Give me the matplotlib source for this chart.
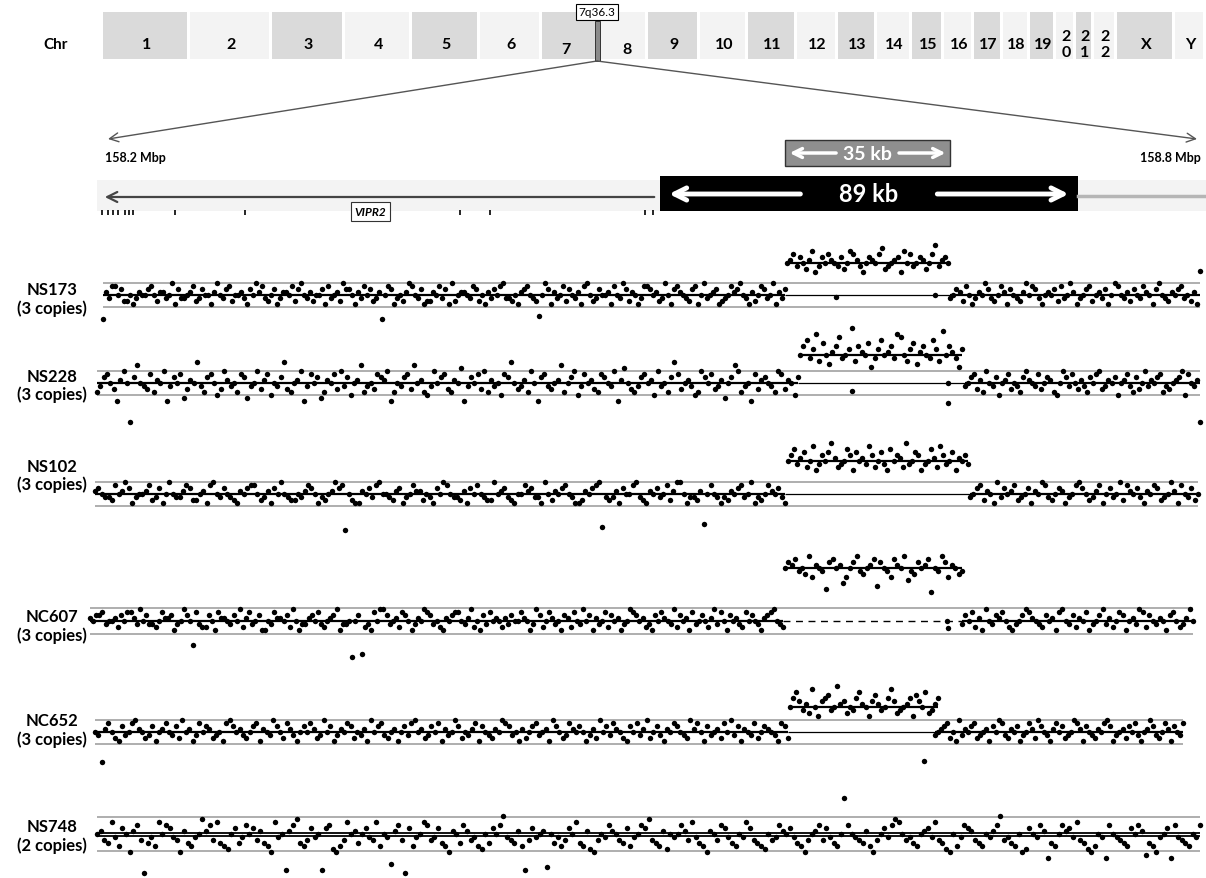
import numpy as np
import matplotlib.pyplot as plt
from matplotlib.patches import Rectangle

plt.rcParams['font.family'] = ['Lato', 'DejaVu Sans']

W, H = 1206, 879

# ---- ideogram ----
chrom_names = ['1', '2', '3', '4', '5', '6', '7', '8', '9', '10', '11', '12',
               '13', '14', '15', '16', '17', '18', '19', '20', '21', '22', 'X', 'Y']
chrom_widths = [87, 82, 73, 67, 68, 62, 56, 50, 52, 48, 49, 41,
                39, 35, 32, 30, 29, 27, 26, 20, 18, 23, 58, 31]

# ---- gene track (kb from 158.2 Mbp) ----
gene_start, gene_end = 8, 305
exon_kb = [6.5, 9.7, 12.4, 15.1, 18.9, 21.1, 23.2, 45.9, 83.8, 200, 216.2, 300, 304.3]
dup89 = (308, 534)
dup35 = (375.7, 464.9)

# ---- samples ----
sample_names = ['NS173', 'NS228', 'NS102', 'NC607', 'NC652', 'NS748']
copy_labels = ['(3 copies)'] * 5 + ['(2 copies)']
thresholds = [0.2, 0.2, 0.2, 0.22, 0.2, 0.29]
cnv_levels = [0.53, 0.47, 0.55, 0.88, 0.42, None]
# start, left end, cnv start, cnv end, right start, end (kb)
seg_bounds = [
    (7, 375.7, 376.8, 463.8, 464.9, 600),
    (3.8, 382.7, 383.8, 471.4, 473, 600),
    (2.7, 375.7, 377.3, 474.6, 475.7, 599),
    (0, 374.6, 375.7, 471.4, 471.4, 596.2),
    (2.7, 377.3, 378.4, 458.4, 456.8, 590.8),
    (3.8, 600, None, None, None, 600),
]
# log-ratio values, one letter per probe ('n' = 0, one letter step = 0.05)
left_vals = [
    "fomqqnpllnkmonnpqnloomnrkpmmnoqlmpnnkornmpqlnnomkp"
    "nroqmlnpkmoonqlprnmolnnpkqmnolrppnkomqnplmofnqpkmn"
    "lorqnmpkllonqmpkrlnoonmqplnkompnqrmmlnkopqnmlgnrpk"
    "omnqlpnmokqrnlmpnnokqnmrplonkmqqpnolmrnkpqonmlpqkn"
    "rmnopklmnqoprnmkolnqpmnrkomp",
    "kmpqnlhornaptnmlqkonrhmpnqilonumkpqnjlromnkqpimnrl"
    "oqjnmpulknorhmqnpikonqlrmpjnotkmnlqporhknmpqltnokj"
    "mrnpqlkonshmpnqlrkomnjqpunlmokrnhpqmlnotknprjmqnol"
    "kqpnmrhosnlkmpqnojrmnkpuqlnomjkrpnqlmoinptrkmnhqlo"
    "pnmkrqlonjp",
    "opnmmlqnorpkmnnoqlmpknrnmmoqpllnokqrnmpnmlkonpqqnl"
    "mokpnrnmllnmoqpnkmlnorpqbnlkkonpmqrnnmlopkmnqoolnm"
    "kpnrqnmmlokpnqnmllrnopmlknnqopmmkrnlonpqnmkklonpqr"
    "cmlmokpnnqrmlkonpmnqlorrnkmmlodnqnmkmlonpqmnrkmlnq"
    "onpmk",
    "onppqmnnolpnqqomrnpmmlnqoopkmnrpnfqmllpnkqoonmpnrl"
    "oqmnpkknmqoonplrnkmmopnqmlnoprkmmnbnpclmkqnrrpmnol"
    "qpnkmonrqpmnlkonpqqnmorlnkpmqnonlompnnqonkmrplnqom"
    "nkpolqnmrnpkomnqlpnokmnrqpnolmkpnqonmrlpnokqmnpnlo"
    "rmqnkpnomlqnpnmkopqrnml",
    "nmdoqnlkpmnqronlmpknoqnmplrnokmqnpolmnkqrpnomlnpqk"
    "onmrpnlqomknpnqolmrnpkmonqplnmokrnpqmlnoknpmqrnolm"
    "pnqkomnrplnmoqkpnmlonrqpmnkolnpqmnokrpnlmqonpnkmol"
    "rnpmqonlkpnqmorlnpmkonqpnmlroqnkpmnolqnrmpkonmqlnp"
    "onmkqpl",
    "nolkrmjpnhoqlakmjrnqpmlhokjmnsoqlrkjinpkmqnplokjhr"
    "mnboqskjlpmnbpqihjlrnoknpmlrjnmdoqlapjmnrqlmpkjhon"
    "kqolmjinkpnqtmlkojblpmnocnkmjlpnrkjoihlnmqonlkpjmn"
    "qpslkjoinmnqolrmkjhonlqpmkjnmrplkjinlmqonpmkjhlnoq"
    "lpmkjnzqnmlkojhlnpmqsrnlmkjnopmrlkihnjmqpolkjnmoqt"
    "lmkjnhipnmqofkjnqopmrlkihjnmfqnmlkjpnqogkjhmnpfqml"
    "kjnmq",
]
cnv_vals = [
    "noqmpnlorkmpnqonmplnrqomknponqslmnopkrnqmnpolnqtmopn",
    "nqsmpulrnkoqtmnpwlqonrjmpsnoqmutnlprkoqnmsplvnqomjp",
    "nprmoqlnskmpnqtolmnrpkqnomsplnqmkrnpoltmnqpkmnrolspmnqkonpm",
    "npoqmnlrkonmgpqnoiknprmlnoqhpnmkqonrjmlpnoqfnmrpkonlm",
    "nqspmoltnkpqrmnuoplnmqsonkpromnqtplmnoqkrpnslmoq",
    "",
]
right_vals = [
    "mnpolqnkmonrpmlnqokpnmlornqpmknonplqmnrokmnpqlnomp"
    "knrqnmolpnmqonkprnmlonpqmnlokv",
    "mnpqlokrnmpjnoqlnmkpronmqlnpokjnrpmqnlomkpnqrlmonp"
    "jnoqmkplnrmonpqkmlnoprjqnmoa",
    "mnpqlonkrmpnoqlmnpkonrqmlnpokmnqrpnlmoqknpmnrlqonpmkonqplmnrokqnmpln",
    "mpnqlokrnmpoqnlkmnprqonmlpnokqrnmplonqkmnprmolnqpknomrqlpnmonkpqnlmorn",
    "mnopqlnkrmonpqlmnokpnrqmlonpkmnqolrpnmkoqnplmnrqokpnmlonqrpkmnolpnqmknorpmlnqokpnmq",
    "",
]
mid_x = [[403, 457], [412, 464, 464], [], [463, 464], [451], []]
mid_y = [[-0.03, 0.0], [-0.13, -0.33, 0.0], [], [0.0, -0.12], [-0.48], []]

panel_base_px = [296, 384, 495, 622, 733, 835]
label_px = [(290, 309), (377, 395), (467, 485), (617, 636), (721, 740), (827, 846)]
STEP = 0.05
DOT = 3.9


def decode(s, level=0.0):
    return np.array([ord(c) - ord('n') for c in s]) * STEP + level


fig = plt.figure(figsize=(W / 100, H / 100), dpi=100)

# overlay in pixel units for ideogram and zoom lines
ax0 = fig.add_axes([0, 0, 1, 1])
ax0.set_xlim(0, W)
ax0.set_ylim(H, 0)
ax0.axis('off')

ax0.text(56, 45, 'Chr', fontsize=11, fontweight='bold', ha='center', va='center')
x = 103
for i, (name, w) in enumerate(zip(chrom_names, chrom_widths)):
    fc = '#dadada' if i % 2 == 0 else '#f3f3f3'
    ax0.add_patch(Rectangle((x, 13), w - 3, 47, fc=fc, ec='none'))
    cx = x + w / 2
    if len(name) == 2 and name.startswith('2'):
        ax0.text(cx, 37, name[0], fontsize=11.5, fontweight='bold', ha='center', va='center')
        ax0.text(cx, 53, name[1], fontsize=11.5, fontweight='bold', ha='center', va='center')
    else:
        ty = 50 if name in ('7', '8') else 45
        if name == '7':
            cx -= 4
        if name == '8':
            cx += 4
        ax0.text(cx, ty, name, fontsize=11.5, fontweight='bold', ha='center', va='center')
    x += w

ax0.add_patch(Rectangle((595, 22), 5, 40, fc='#8a8a8a', ec='#333333', lw=0.7))
ax0.text(597, 13, '7q36.3', fontsize=8.5, ha='center', va='center',
         bbox=dict(boxstyle='square,pad=0.25', fc='white', ec='black', lw=0.8))
for tx in (108, 1197):
    ax0.annotate('', xy=(tx, 140), xytext=(597, 62),
                 arrowprops=dict(arrowstyle='->', color='#555555', lw=1.0,
                                 mutation_scale=16, shrinkA=0, shrinkB=0))
ax0.text(105, 158, '158.2 Mbp', fontsize=9, fontweight='bold', ha='left', va='center')
ax0.text(1201, 158, '158.8 Mbp', fontsize=9, fontweight='bold', ha='right', va='center')

# gene track
gx = fig.add_axes([90 / W, 1 - 225 / H, 1110 / W, 95 / H])
gx.set_xlim(0, 600)
gx.set_ylim(225, 130)
gx.axis('off')
gx.add_patch(Rectangle((3.8, 181), 600, 31, fc='#f3f3f3', ec='none', clip_on=False))
gx.annotate('', xy=(gene_start, 198), xytext=(gene_end, 198),
            arrowprops=dict(arrowstyle='->', color='#444444', lw=1.6,
                            mutation_scale=18, shrinkA=0, shrinkB=0))
gx.plot([dup89[1], 603], [197, 197], color='#b5b5b5', lw=2.5, clip_on=False)
gx.vlines(exon_kb, 211, 216, color='black', lw=1.2)
gx.text(151.4, 212.5, 'VIPR2', fontsize=8.5, fontweight='bold', style='italic',
        ha='center', va='center',
        bbox=dict(boxstyle='square,pad=0.3', fc='white', ec='#333333', lw=0.8))
gx.add_patch(Rectangle((dup89[0], 177), dup89[1] - dup89[0], 35, fc='black', ec='none'))
c89 = (dup89[0] + dup89[1]) / 2
gx.text(c89, 195, '89 kb', color='white', fontsize=17, fontweight='bold',
        ha='center', va='center')
gx.annotate('', xy=(dup89[0] + 5, 195), xytext=(c89 - 37, 195),
            arrowprops=dict(arrowstyle='->', color='white', lw=3.5,
                            mutation_scale=22, shrinkA=0, shrinkB=0))
gx.annotate('', xy=(dup89[1] - 5, 195), xytext=(c89 + 37, 195),
            arrowprops=dict(arrowstyle='->', color='white', lw=3.5,
                            mutation_scale=22, shrinkA=0, shrinkB=0))
gx.add_patch(Rectangle((dup35[0], 141), dup35[1] - dup35[0], 26,
                       fc='#8f8f8f', ec='#333333', lw=1))
c35 = (dup35[0] + dup35[1]) / 2
gx.text(c35, 154, '35 kb', color='white', fontsize=14, fontweight='bold',
        ha='center', va='center')
gx.annotate('', xy=(dup35[0] + 2.5, 154), xytext=(c35 - 17, 154),
            arrowprops=dict(arrowstyle='->', color='white', lw=2.5,
                            mutation_scale=16, shrinkA=0, shrinkB=0))
gx.annotate('', xy=(dup35[1] - 2.5, 154), xytext=(c35 + 17, 154),
            arrowprops=dict(arrowstyle='->', color='white', lw=2.5,
                            mutation_scale=16, shrinkA=0, shrinkB=0))

# sample panels
for i, name in enumerate(sample_names):
    b = panel_base_px[i]
    ax = fig.add_axes([90 / W, 1 - (b + 60) / H, 1110 / W, 132 / H])
    ax.set_xlim(0, 600)
    ax.set_ylim(-1, 1.2)
    ax.axis('off')
    s0, l1, c0, c1, r0, s1 = seg_bounds[i]
    thr = thresholds[i]
    ax.hlines([thr, -thr], s0, s1, color='#a8a8a8', lw=1.3)

    yl = decode(left_vals[i])
    xl = np.linspace(s0, l1, len(yl))
    ax.plot(xl, yl, 'o', ms=DOT, color='black', mec='none', clip_on=False)

    if cnv_levels[i] is None:
        ax.hlines([0.025, -0.025], s0, s1, color='black', lw=1.3)
    else:
        ax.hlines(0, s0, l1, color='black', lw=1.6)
        ax.hlines(0, r0, s1, color='black', lw=1.6)
        if name == 'NC607':
            ax.hlines(0, l1, r0, color='black', lw=1.0, linestyles=(0, (5, 4)))
        else:
            ax.hlines(0, l1, r0, color='black', lw=0.9)
        yc = decode(cnv_vals[i], cnv_levels[i])
        xc = np.linspace(c0, c1, len(yc))
        ax.plot(xc, yc, 'o', ms=DOT, color='black', mec='none')
        ax.hlines(cnv_levels[i], c0, c1, color='black', lw=1.6)
        yr = decode(right_vals[i])
        xr = np.linspace(r0, s1, len(yr))
        ax.plot(xr, yr, 'o', ms=DOT, color='black', mec='none', clip_on=False)
        if mid_x[i]:
            ax.plot(mid_x[i], mid_y[i], 'o', ms=DOT, color='black', mec='none')

    ty1, ty2 = label_px[i]
    fig.text(52 / W, 1 - ty1 / H, name, fontsize=12, fontweight='bold',
             ha='center', va='center')
    fig.text(52 / W, 1 - ty2 / H, copy_labels[i], fontsize=12, fontweight='bold',
             ha='center', va='center')

fig.savefig('out.png', dpi=100)
